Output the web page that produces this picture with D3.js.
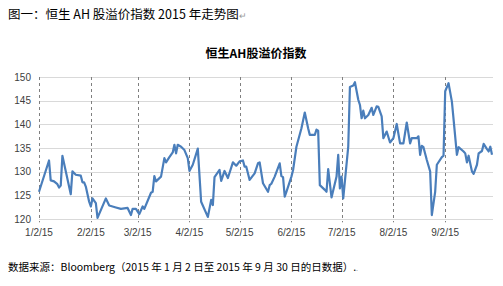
<!DOCTYPE html>
<html>
<head>
<meta charset="utf-8">
<script src="https://cdn.jsdelivr.net/npm/d3@7"></script>
<style>
  body { margin: 0; background: #fff; }
  svg { display: block; }
  text { font-family: "Noto Sans CJK SC", sans-serif; }
  .tick-label { font-family: "Liberation Sans", Arial, sans-serif; font-size: 10px; fill: #404040; }
</style>
</head>
<body>
<div id="chart"></div>
<script>
// Captions
const captionTop = '图一：恒生 AH 股溢价指数 2015 年走势图'
const chartTitle = '恒生AH股溢价指数'
const captionBottom = '数据来源：Bloomberg（2015 年 1 月 2 日至 2015 年 9 月 30 日的日数据）.'

// Axis ticks
const monthTicks = ['2015-01-02', '2015-02-02', '2015-03-02', '2015-04-02', '2015-05-02',
    '2015-06-02', '2015-07-02', '2015-08-02', '2015-09-02']
const yTicks = [120, 125, 130, 135, 140, 145, 150]

// Series (at turning points)
const dates = [
    '2015-01-02', '2015-01-08', '2015-01-09', '2015-01-11', '2015-01-13', '2015-01-14', '2015-01-15', '2015-01-16',
    '2015-01-21', '2015-01-22', '2015-01-24', '2015-01-27', '2015-01-28', '2015-01-29', '2015-01-30', '2015-02-01',
    '2015-02-02', '2015-02-03', '2015-02-05', '2015-02-06', '2015-02-11', '2015-02-13', '2015-02-17', '2015-02-20',
    '2015-02-24', '2015-02-26', '2015-02-27', '2015-03-01', '2015-03-03', '2015-03-05', '2015-03-06', '2015-03-10',
    '2015-03-11', '2015-03-12', '2015-03-13', '2015-03-16', '2015-03-18', '2015-03-19', '2015-03-21', '2015-03-23',
    '2015-03-24', '2015-03-25', '2015-03-26', '2015-03-28', '2015-03-30', '2015-04-01', '2015-04-02', '2015-04-04',
    '2015-04-07', '2015-04-09', '2015-04-13', '2015-04-15', '2015-04-16', '2015-04-17', '2015-04-20', '2015-04-21',
    '2015-04-23', '2015-04-25', '2015-04-28', '2015-04-30', '2015-05-02', '2015-05-04', '2015-05-05', '2015-05-06',
    '2015-05-08', '2015-05-11', '2015-05-13', '2015-05-14', '2015-05-16', '2015-05-19', '2015-05-20', '2015-05-21',
    '2015-05-23', '2015-05-26', '2015-05-27', '2015-05-28', '2015-05-29', '2015-05-30', '2015-06-02', '2015-06-03',
    '2015-06-05', '2015-06-08', '2015-06-10', '2015-06-12', '2015-06-13', '2015-06-16', '2015-06-17', '2015-06-18',
    '2015-06-19', '2015-06-22', '2015-06-23', '2015-06-24', '2015-06-26', '2015-06-29', '2015-06-30', '2015-07-01',
    '2015-07-02', '2015-07-03', '2015-07-06', '2015-07-07', '2015-07-09', '2015-07-10', '2015-07-12', '2015-07-13',
    '2015-07-14', '2015-07-15', '2015-07-16', '2015-07-18', '2015-07-20', '2015-07-21', '2015-07-23', '2015-07-24',
    '2015-07-26', '2015-07-27', '2015-07-29', '2015-07-31', '2015-08-02', '2015-08-04', '2015-08-06', '2015-08-08',
    '2015-08-10', '2015-08-12', '2015-08-13', '2015-08-16', '2015-08-17', '2015-08-18', '2015-08-19', '2015-08-20',
    '2015-08-22', '2015-08-24', '2015-08-25', '2015-08-27', '2015-08-28', '2015-08-31', '2015-09-01', '2015-09-02',
    '2015-09-04', '2015-09-06', '2015-09-07', '2015-09-09', '2015-09-10', '2015-09-13', '2015-09-14', '2015-09-15',
    '2015-09-16', '2015-09-18', '2015-09-19', '2015-09-21', '2015-09-22', '2015-09-24', '2015-09-25', '2015-09-27',
    '2015-09-28', '2015-09-29', '2015-09-30'
]
const values = [
    125.8, 132.4, 128.2, 128.0, 127.4, 126.7, 127.1, 133.4,
    125.3, 130.1, 129.4, 129.2, 127.8, 127.8, 126.9, 123.7,
    122.7, 124.4, 123.4, 120.3, 124.4, 122.9, 122.5, 122.2,
    122.4, 120.9, 122.2, 122.2, 121.1, 122.7, 122.2, 125.6,
    125.8, 129.1, 128.0, 129.0, 132.9, 132.0, 133.1, 134.1,
    135.7, 133.9, 135.7, 135.3, 134.6, 132.9, 130.2, 131.5,
    134.9, 123.7, 120.5, 124.1, 123.0, 128.9, 130.4, 128.1,
    130.2, 128.7, 132.0, 131.3, 132.2, 132.4, 131.1, 131.1,
    128.3, 129.7, 131.8, 132.0, 127.6, 125.8, 127.2, 127.5,
    129.0, 131.8, 129.1, 128.9, 124.8, 125.8, 129.0, 130.4,
    135.3, 139.2, 142.5, 139.2, 137.8, 137.8, 138.9, 138.7,
    127.2, 126.2, 125.8, 130.6, 124.6, 129.0, 133.6, 126.5,
    129.0, 124.4, 135.3, 147.9, 148.2, 148.9, 145.2, 144.1,
    141.3, 142.9, 141.3, 142.0, 143.5, 142.0, 143.8, 143.7,
    141.7, 137.1, 138.5, 136.2, 137.1, 140.1, 136.0, 136.0,
    140.4, 136.0, 137.1, 137.1, 137.5, 133.6, 135.5, 135.2,
    132.5, 130.1, 120.9, 125.8, 131.5, 133.1, 133.4, 147.0,
    148.7, 144.8, 141.1, 133.6, 135.2, 134.3, 133.9, 132.0,
    133.4, 130.1, 129.6, 131.5, 133.9, 134.4, 135.9, 134.8,
    134.3, 135.3, 133.6
]

document.addEventListener('DOMContentLoaded', () => {
    const viewWidth = 503
    const viewHeight = 286
    const parse = d3.timeParse('%Y-%m-%d')

    const svg = d3.select('#chart')
        .append('svg')
        .attr('width', viewWidth)
        .attr('height', viewHeight)

    const x = d3.scaleTime()
        .domain([parse('2015-01-02'), parse('2015-09-30')])
        .range([39, 492])
    const y = d3.scaleLinear()
        .domain([120, 150])
        .range([219.3, 77])

    // horizontal gridlines
    svg.append('g')
        .selectAll('line')
        .data(yTicks)
        .join('line')
        .attr('x1', 39)
        .attr('x2', 493)
        .attr('y1', d => Math.round(y(d)) + 0.5)
        .attr('y2', d => Math.round(y(d)) + 0.5)
        .attr('stroke', '#d9d9d9')
        .attr('stroke-width', 1)

    // dashed month lines
    svg.append('g')
        .selectAll('line')
        .data(monthTicks)
        .join('line')
        .attr('x1', d => Math.round(x(parse(d))) + 0.5)
        .attr('x2', d => Math.round(x(parse(d))) + 0.5)
        .attr('y1', y(150))
        .attr('y2', y(120) + 3)
        .attr('stroke', '#7f7f7f')
        .attr('stroke-width', 1)
        .attr('stroke-dasharray', '3,3')

    // y labels
    svg.append('g')
        .selectAll('text')
        .data(yTicks)
        .join('text')
        .attr('class', 'tick-label')
        .attr('x', 31)
        .attr('y', d => y(d))
        .attr('dy', '0.35em')
        .attr('text-anchor', 'end')
        .text(d => d)

    // x labels
    const fmt = d3.timeFormat('%-m/%-d/%y')
    svg.append('g')
        .selectAll('text')
        .data(monthTicks)
        .join('text')
        .attr('class', 'tick-label')
        .attr('x', d => x(parse(d)))
        .attr('y', 236)
        .attr('text-anchor', 'middle')
        .text(d => fmt(parse(d)))

    // the line
    const points = dates.map((d, i) => [parse(d), values[i]])
    const line = d3.line()
        .x(d => x(d[0]))
        .y(d => y(d[1]))
    svg.append('path')
        .datum(points)
        .attr('d', line)
        .attr('fill', 'none')
        .attr('stroke', '#4a7ebb')
        .attr('stroke-width', 2.2)
        .attr('stroke-linejoin', 'round')

    // title
    svg.append('text')
        .attr('x', 256)
        .attr('y', 58)
        .attr('text-anchor', 'middle')
        .style('font-size', '12px')
        .style('font-weight', 'bold')
        .text(chartTitle)

    // captions
    const top = svg.append('text')
        .attr('x', 8)
        .attr('y', 18.5)
        .style('font-size', '12.5px')
        .attr('fill', '#000')
        .text(captionTop)
    top.append('tspan')
        .attr('fill', '#999')
        .style('font-size', '9px')
        .text('↵')

    svg.append('text')
        .attr('x', 8)
        .attr('y', 270.5)
        .style('font-size', '10.5px')
        .attr('fill', '#000')
        .text(captionBottom)
        .append('tspan')
        .attr('fill', '#999')
        .style('font-size', '7px')
        .text('.')
})
</script>
</body>
</html>
